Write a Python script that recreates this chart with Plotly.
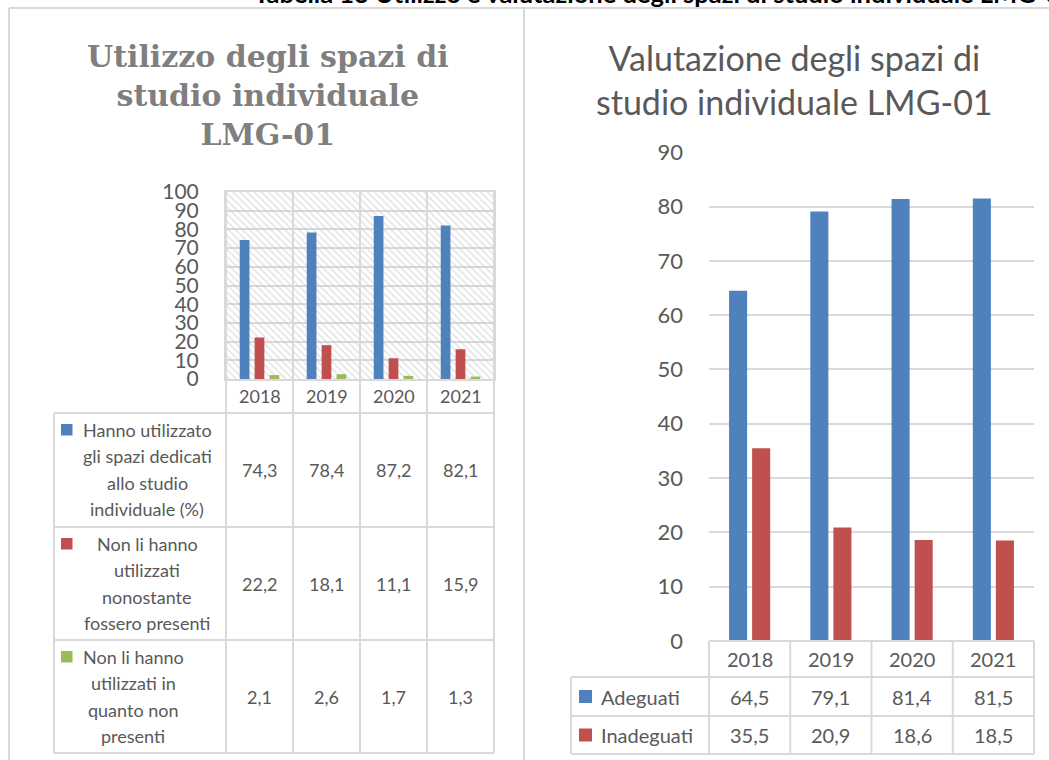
import plotly.graph_objects as go

W, H = 1049, 760
PAGE_OFFSET = 0  # page margin removed by post_script below

# ---------------- data ----------------
years = ["2018", "2019", "2020", "2021"]

use_names = [
    "Hanno utilizzato<br>gli spazi dedicati<br>allo studio<br>individuale (%)",
    "Non li hanno<br>utilizzati<br>nonostante<br>fossero presenti",
    "Non li hanno<br>utilizzati in<br>quanto non<br>presenti",
]
use_used = [74.3, 78.4, 87.2, 82.1]
use_not_used = [22.2, 18.1, 11.1, 15.9]
use_absent = [2.1, 2.6, 1.7, 1.3]

eval_names = ["Adeguati", "Inadeguati"]
eval_adequate = [64.5, 79.1, 81.4, 81.5]
eval_inadequate = [35.5, 20.9, 18.6, 18.5]

left_ticks = [0, 10, 20, 30, 40, 50, 60, 70, 80, 90, 100]
right_ticks = [0, 10, 20, 30, 40, 50, 60, 70, 80, 90]

title_left = "Utilizzo degli spazi di<br>studio individuale<br>LMG-01"
title_right = "Valutazione degli spazi di<br>studio individuale LMG-01"
header = "Tabella 13 Utilizzo e valutazione degli spazi di studio individuale LMG-01"

colors = ["#4F81BD", "#C0504D", "#9BBB59"]
GRID = "#d9d9d9"
TXT = "#595959"
SANS = "Lato"


def X(p):
    return (p - PAGE_OFFSET) / W


def Y(p):
    return 1 - (p - PAGE_OFFSET) / H


def fmt(v):
    return f"{v:.1f}".replace(".", ",")


use_series = [use_used, use_not_used, use_absent]
eval_series = [eval_adequate, eval_inadequate]

fig = go.Figure()

# hatched background of the left plot area
fig.add_trace(go.Bar(
    x=years, y=[max(left_ticks)] * len(years), width=1, offset=-0.5,
    marker=dict(color="rgba(0,0,0,0)", line=dict(width=0),
                pattern=dict(shape="\\", fgcolor="#c8c8c8", bgcolor="rgba(0,0,0,0)",
                             size=5, solidity=0.3)),
    hoverinfo="skip", showlegend=False, xaxis="x", yaxis="y"))

left_offsets = [-0.295, -0.0725, 0.15]
for vals, off, c, name in zip(use_series, left_offsets, colors, use_names):
    fig.add_trace(go.Bar(x=years, y=vals, width=0.145, offset=off, marker_color=c,
                         marker_line_width=0, name=name.replace("<br>", " "),
                         showlegend=False, xaxis="x", yaxis="y"))

right_offsets = [-0.253, 0.031]
for vals, off, c, name in zip(eval_series, right_offsets, colors, eval_names):
    fig.add_trace(go.Bar(x=years, y=vals, width=0.222, offset=off, marker_color=c,
                         marker_line_width=0, name=name, showlegend=False,
                         xaxis="x2", yaxis="y2"))

# ---------------- geometry (screen pixels) ----------------
L_PLOT_L, L_PLOT_R, L_PLOT_T, L_PLOT_B = 226, 494, 192, 379
L_YEAR_B = 413
L_LEG_L = 54
L_ROWS = [413, 527, 640, 753]
R_PLOT_L, R_PLOT_R, R_PLOT_T, R_PLOT_B = 709, 1034, 152, 641
R_YEAR_B = 677
R_LEG_L = 571
R_ROWS = [677, 716, 754]

shapes = []


def line(x0, y0, x1, y1, w=2, color=GRID):
    shapes.append(dict(type="line", xref="paper", yref="paper", x0=X(x0), y0=Y(y0),
                       x1=X(x1), y1=Y(y1), line=dict(color=color, width=w), layer="above"))


# panel frame
line(9, 8, W, 8)
line(9, 8, 9, H)
line(524, 8, 524, H)

# left table
ncat = len(years)
lcol = [L_PLOT_L + i * (L_PLOT_R - L_PLOT_L) / ncat for i in range(ncat + 1)]
for xc in lcol:
    line(xc, L_PLOT_T, xc, L_ROWS[-1])
for yr in L_ROWS:
    line(L_LEG_L, yr, L_PLOT_R, yr)
line(L_LEG_L, L_ROWS[0], L_LEG_L, L_ROWS[-1])

# right table
rcol = [R_PLOT_L + i * (R_PLOT_R - R_PLOT_L) / ncat for i in range(ncat + 1)]
for xc in rcol:
    line(xc, R_PLOT_B, xc, R_ROWS[-1])
line(R_PLOT_L, R_PLOT_B, R_PLOT_R, R_PLOT_B)
for yr in R_ROWS:
    line(R_LEG_L, yr, R_PLOT_R, yr)
line(R_LEG_L, R_ROWS[0], R_LEG_L, R_ROWS[-1])

annotations = []


def text(t, x, y, size, color=TXT, family=SANS, xanchor="center", yanchor="middle"):
    annotations.append(dict(text=t, x=X(x), y=Y(y), xref="paper", yref="paper",
                            showarrow=False, xanchor=xanchor, yanchor=yanchor,
                            font=dict(family=family, size=size, color=color)))


# header (clipped at page top)
text("<b>" + header + "</b>", 252, 10.5, 25.5, color="#000000", family=SANS,
     xanchor="left", yanchor="bottom")

# titles
text("<b>" + title_left + "</b>", 268, 95, 30, color="#7f7f7f", family="DejaVu Serif")
text(title_right, 794, 79, 34, color=TXT)

# left table texts
for i, yv in enumerate(years):
    text(yv, (lcol[i] + lcol[i + 1]) / 2, (L_PLOT_B + L_YEAR_B) / 2, 18)
leg_text_cx = [147, 147, 133]
for r, (name, vals) in enumerate(zip(use_names, use_series)):
    top, bot = L_ROWS[r], L_ROWS[r + 1]
    for k, ln in enumerate(name.split("<br>")):
        text(ln, leg_text_cx[r], top + 17 + k * 26.3, 18)
    shapes.append(dict(type="rect", xref="paper", yref="paper", x0=X(61), x1=X(72.5),
                       y0=Y(top + 11), y1=Y(top + 22.5), fillcolor=colors[r],
                       line=dict(width=0), layer="above"))
    for i, v in enumerate(vals):
        text(fmt(v), (lcol[i] + lcol[i + 1]) / 2, (top + bot) / 2, 18)

# right table texts
for i, yv in enumerate(years):
    text(yv, (rcol[i] + rcol[i + 1]) / 2, (R_PLOT_B + R_YEAR_B) / 2, 20)
for r, (name, vals) in enumerate(zip(eval_names, eval_series)):
    top, bot = R_ROWS[r], R_ROWS[r + 1]
    cy = (top + bot) / 2
    shapes.append(dict(type="rect", xref="paper", yref="paper", x0=X(579), x1=X(592),
                       y0=Y(cy - 6.5), y1=Y(cy + 6.5), fillcolor=colors[r],
                       line=dict(width=0), layer="above"))
    text(name, 599, cy, 20, xanchor="left")
    for i, v in enumerate(vals):
        text(fmt(v), (rcol[i] + rcol[i + 1]) / 2, cy, 20)

fig.update_layout(
    width=W, height=H, margin=dict(l=0, r=0, t=0, b=0, pad=0, autoexpand=False),
    paper_bgcolor="white", plot_bgcolor="rgba(0,0,0,0)",
    barmode="overlay", showlegend=False,
    font=dict(family=SANS, color=TXT),
    xaxis=dict(domain=[X(L_PLOT_L), X(L_PLOT_R)], anchor="y", type="category",
               range=[-0.5, 3.5], showticklabels=False, ticks="", showgrid=False,
               showline=True, mirror=True, linecolor=GRID, linewidth=2, fixedrange=True,
               automargin=False),
    yaxis=dict(domain=[Y(L_PLOT_B), Y(L_PLOT_T)], anchor="x", range=[0, max(left_ticks)],
               tickvals=left_ticks, ticktext=[str(t) for t in left_ticks],
               showgrid=True, gridcolor=GRID, gridwidth=2, zeroline=False,
               showline=True, mirror=True, linecolor=GRID, linewidth=2, ticks="",
               ticklabelstandoff=21, tickfont=dict(family=SANS, size=21, color=TXT),
               automargin=False),
    xaxis2=dict(domain=[X(R_PLOT_L), X(R_PLOT_R)], anchor="y2", type="category",
                range=[-0.5, 3.5], showticklabels=False, ticks="", showgrid=False,
                showline=False, zeroline=False, automargin=False),
    yaxis2=dict(domain=[Y(R_PLOT_B), Y(R_PLOT_T)], anchor="x2", range=[0, max(right_ticks) + 0.05],
                tickvals=right_ticks, ticktext=[str(t) for t in right_ticks],
                showgrid=True, gridcolor=GRID, gridwidth=1.5, zeroline=False,
                showline=False, ticks="", ticklabelstandoff=25,
                tickfont=dict(family=SANS, size=22, color=TXT), automargin=False),
    shapes=shapes, annotations=annotations,
)

fig.write_html("out.html", config={"displayModeBar": False},
               post_script="document.body.style.margin='0';document.body.style.overflow='hidden';")
